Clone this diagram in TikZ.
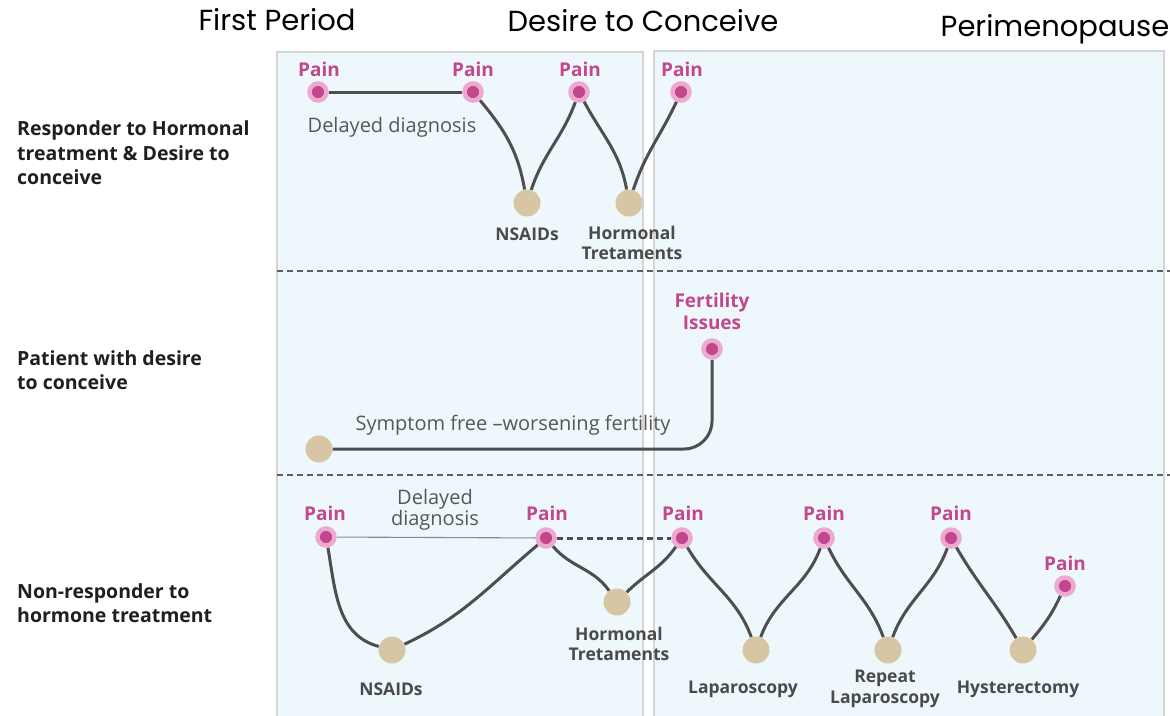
\documentclass[tikz,border=0pt]{standalone}
\usepackage{fontspec}
\setmainfont{Open Sans}
\newfontfamily\headfont{Poppins}
\pgfdeclarelayer{panels}
\pgfdeclarelayer{lines}
\pgfsetlayers{panels,lines,main}

\definecolor{panelfill}{HTML}{EEF7FB}
\definecolor{panelline}{HTML}{D2D6D9}
\definecolor{wave}{HTML}{4E4E4E}
\definecolor{thinline}{HTML}{8A8A8A}
\definecolor{painpink}{HTML}{C2478D}
\definecolor{painhalo}{HTML}{ECAAD0}
\definecolor{tandot}{HTML}{D6C6A3}
\definecolor{labelgray}{HTML}{4A4A4A}
\definecolor{notegray}{HTML}{575757}
\definecolor{sepgray}{HTML}{5E5E5E}

\begin{document}
\begin{tikzpicture}[x=1pt,y=-1pt,
  painpt/.style={circle, fill=painpink, draw=painhalo, line width=4.5pt,
                 minimum size=17pt, inner sep=0pt},
  treat/.style={circle, fill=tandot, minimum size=27pt, inner sep=0pt},
  painlbl/.style={font=\fontsize{19}{22}\selectfont\bfseries, text=painpink,
                  inner sep=0pt, align=center},
  treatlbl/.style={font=\fontsize{17.5}{20.5}\selectfont\bfseries, text=labelgray,
                   inner sep=0pt, align=center},
  note/.style={font=\fontsize{20}{21}\selectfont, text=notegray,
               inner sep=0pt, align=center},
  rowlbl/.style={font=\fontsize{19.5}{24.5}\selectfont\bfseries, text=black!88,
                 inner sep=0pt, align=left, anchor=west},
  head/.style={font=\headfont\fontsize{29}{32}\selectfont, text=black,
               inner sep=0pt, anchor=base},
  panel/.style={fill=panelfill, draw=panelline, line width=1.2pt},
  sep/.style={draw=sepgray, line width=2.8pt, dash pattern=on 6pt off 4pt},
  wavepath/.style={draw=wave, line width=3pt},
  faint/.style={draw=thinline, line width=1.1pt},
  gap/.style={draw=wave, line width=3pt, dash pattern=on 6pt off 4pt}]

\useasboundingbox (0,0) rectangle (1170,715);

% period panels and row separators
\begin{pgfonlayer}{panels}
  \fill[white] (0,0) rectangle (1170,715);
  \draw[panel] (277,52) rectangle (643,718);
  \draw[panel] (654,51) rectangle (1164,718);
  \draw[sep] (277,271) -- (1170,271);
  \draw[sep] (277,475) -- (1170,475);
\end{pgfonlayer}

% headings
\node[head] (hfirst) at (277,30) {First Period};
\node[head] (hdesire) at (643,31) {Desire to Conceive};
\node[head] (hperi) at (1055,36) {Perimenopause};

% row titles
\node[rowlbl] (r1) at (17,153) {Responder to Hormonal\\treatment \& Desire to\\conceive};
\node[rowlbl] (r2) at (17,370) {Patient with desire\\to conceive};
\node[rowlbl] (r3) at (17,603) {Non-responder to\\hormone treatment};

% ---- row 1: responder to hormonal treatment
\node[painpt] (a1) at (318,92) {};
\node[painpt] (a2) at (473,92) {};
\node[treat]  (a3) at (527,203) {};
\node[painpt] (a4) at (579,92) {};
\node[treat]  (a5) at (629,203) {};
\node[painpt] (a6) at (681,92) {};

\node[painlbl] (la1) at (319,69) {Pain};
\node[painlbl] (la2) at (473,69) {Pain};
\node[painlbl] (la4) at (580,69) {Pain};
\node[painlbl] (la6) at (682,69) {Pain};
\node[treatlbl] (la3) at (527,234) {NSAIDs};
\node[treatlbl] (la5) at (632,243) {Hormonal\\Tretaments};
\node[note] (na) at (392,127) {Delayed diagnosis};

\begin{pgfonlayer}{lines}
  \draw[wavepath] (a1) -- (a2);
  \draw[wavepath] (a2) to[out=-50,in=100] (a3);
  \draw[wavepath] (a3) to[out=72,in=-110] (a4);
  \draw[wavepath] (a4) to[out=-62,in=100] (a5);
  \draw[wavepath] (a5) to[out=72,in=-115] (a6);
\end{pgfonlayer}

% ---- row 2: patient with desire to conceive
\node[treat]  (b1) at (319,449) {};
\node[painpt] (b2) at (712,349) {};
\node[painlbl] (lb2) at (712,311) {Fertility\\Issues};
\node[note] (nb) at (513,425) {Symptom free –worsening fertility};

\begin{pgfonlayer}{lines}
  \draw[wavepath, rounded corners=28pt] (b1) -- (712,449) -- (b2);
\end{pgfonlayer}

% ---- row 3: non-responder to hormone treatment
\node[painpt] (c1)  at (326,537) {};
\node[treat]  (c2)  at (392,650) {};
\node[painpt] (c3)  at (546,538) {};
\node[treat]  (c4)  at (617,602) {};
\node[painpt] (c5)  at (682,538) {};
\node[treat]  (c6)  at (756,650) {};
\node[painpt] (c7)  at (824,538) {};
\node[treat]  (c8)  at (888,650) {};
\node[painpt] (c9)  at (951,538) {};
\node[treat]  (c10) at (1023,650) {};
\node[painpt] (c11) at (1065,586) {};

\node[painlbl] (lc1)  at (325,513) {Pain};
\node[painlbl] (lc3)  at (547,513) {Pain};
\node[painlbl] (lc5)  at (683,513) {Pain};
\node[painlbl] (lc7)  at (824,513) {Pain};
\node[painlbl] (lc9)  at (951,513) {Pain};
\node[painlbl] (lc11) at (1065,563) {Pain};
\node[treatlbl] (lc2)  at (391,689) {NSAIDs};
\node[treatlbl] (lc4)  at (619,644) {Hormonal\\Tretaments};
\node[treatlbl] (lc6)  at (743,689) {Laparoscopy};
\node[treatlbl] (lc8)  at (885,689) {Repeat\\Laparoscopy};
\node[treatlbl] (lc10) at (1018,689) {Hysterectomy};
\node[note] (nc) at (435,510) {Delayed\\diagnosis};

\begin{pgfonlayer}{lines}
  \draw[faint] (c1) -- (c3);
  \draw[gap] (c3) -- (c5);
  \draw[wavepath] (c1) to[out=-80,in=165] (c2);
  \draw[wavepath] (c2) to[out=25,in=-140] (c3);
  \draw[wavepath] (c3) to[out=-50,in=125] (c4);
  \draw[wavepath] (c4) to[out=45,in=-125] (c5);
  \draw[wavepath] (c5) to[out=-60,in=110] (c6);
  \draw[wavepath] (c6) to[out=70,in=-110] (c7);
  \draw[wavepath] (c7) to[out=-65,in=110] (c8);
  \draw[wavepath] (c8) to[out=70,in=-110] (c9);
  \draw[wavepath] (c9) to[out=-60,in=120] (c10);
  \draw[wavepath] (c10) to[out=50,in=-115] (c11);
\end{pgfonlayer}

\end{tikzpicture}
\end{document}
